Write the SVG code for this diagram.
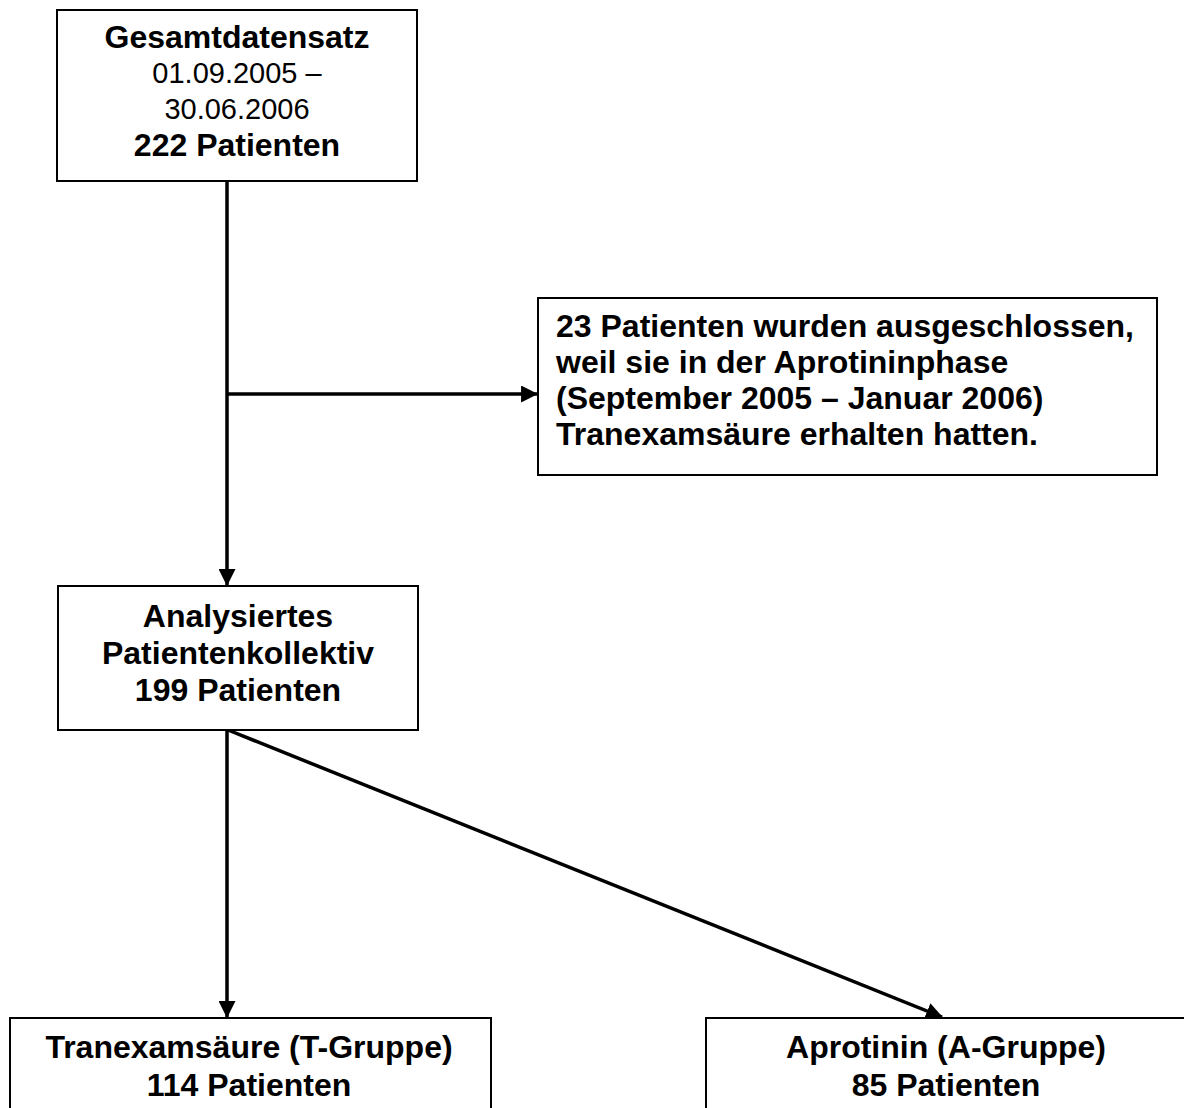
<svg xmlns="http://www.w3.org/2000/svg" width="1184" height="1108" viewBox="0 0 1184 1108">
<style>
.box{fill:#fff;stroke:#000;stroke-width:2}
.t{font-family:"Liberation Sans",Arial,sans-serif;font-size:32px;font-weight:bold;fill:#000}
.r{font-family:"Liberation Sans",Arial,sans-serif;font-size:29px;font-weight:normal;fill:#000}
.c{text-anchor:middle}
.ln{stroke:#000;stroke-width:3.5;fill:none}
</style>
<defs>
<marker id="ah" markerUnits="userSpaceOnUse" markerWidth="17" markerHeight="17" viewBox="0 0 16 16" refX="15" refY="8" orient="auto">
<path d="M0,0 L16,8 L0,16 z" fill="#000"/>
</marker>
</defs>
<rect width="1184" height="1108" fill="#fff"/>
<g id="connectors">
<line class="ln" x1="227" y1="181" x2="227" y2="585" marker-end="url(#ah)"/>
<line class="ln" x1="227" y1="394" x2="537" y2="394" marker-end="url(#ah)"/>
<line class="ln" x1="227" y1="730" x2="227" y2="1017" marker-end="url(#ah)"/>
<line class="ln" x1="228" y1="730" x2="942" y2="1017" marker-end="url(#ah)"/>
</g>
<g id="gesamt">
<rect class="box" x="57" y="10" width="360" height="171"/>
<text class="t c" x="237" y="48">Gesamtdatensatz</text>
<text class="r c" x="237" y="83">01.09.2005 –</text>
<text class="r c" x="237" y="119">30.06.2006</text>
<text class="t c" x="237" y="156">222 Patienten</text>
</g>
<g id="ausgeschlossen">
<rect class="box" x="538" y="298" width="619" height="177"/>
<text class="t" x="556" y="337">23 Patienten wurden ausgeschlossen,</text>
<text class="t" x="556" y="373">weil sie in der Aprotininphase</text>
<text class="t" x="556" y="409">(September 2005 – Januar 2006)</text>
<text class="t" x="556" y="445">Tranexamsäure erhalten hatten.</text>
</g>
<g id="analysiert">
<rect class="box" x="58" y="586" width="360" height="144"/>
<text class="t c" x="238" y="627">Analysiertes</text>
<text class="t c" x="238" y="664">Patientenkollektiv</text>
<text class="t c" x="238" y="701">199 Patienten</text>
</g>
<g id="tgruppe">
<rect class="box" x="10" y="1018" width="481" height="120"/>
<text class="t c" x="249" y="1058">Tranexamsäure (T-Gruppe)</text>
<text class="t c" x="249" y="1096">114 Patienten</text>
</g>
<g id="agruppe">
<rect class="box" x="706" y="1018" width="480" height="120"/>
<text class="t c" x="946" y="1058">Aprotinin (A-Gruppe)</text>
<text class="t c" x="946" y="1096">85 Patienten</text>
</g>
</svg>
